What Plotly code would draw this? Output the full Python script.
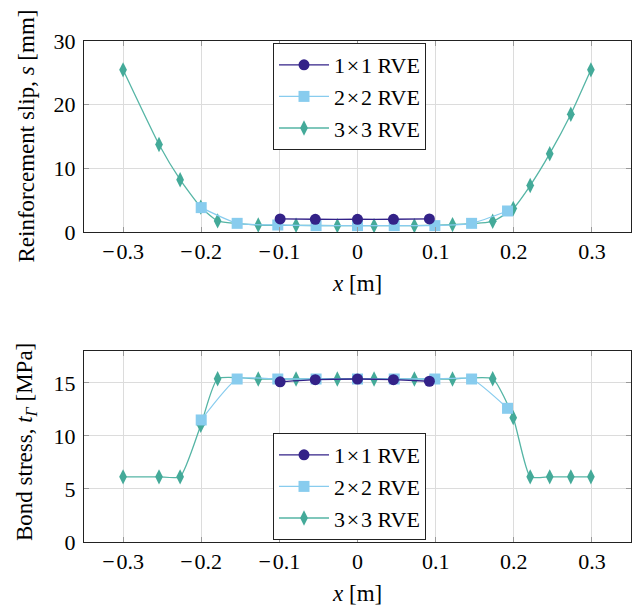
import plotly.graph_objects as go

# ---------------- data ----------------
x_1x1 = [-0.099, -0.054, 0.0, 0.046, 0.092]
slip_1x1 = [2.05, 2.0, 2.0, 2.0, 2.05]
stress_1x1 = [15.1, 15.3, 15.36, 15.3, 15.15]

x_2x2 = [-0.200, -0.154, -0.102, -0.053, 0.0, 0.047, 0.099, 0.146, 0.192]
slip_2x2 = [3.83, 1.36, 1.1, 1.0, 1.0, 1.0, 1.0, 1.36, 3.3]
stress_2x2 = [11.5, 15.36, 15.36, 15.36, 15.36, 15.36, 15.36, 15.36, 12.6]

x_3x3 = [-0.300, -0.254, -0.227, -0.2006, -0.179, -0.127, -0.0786, -0.0258,
         0.0212, 0.0728, 0.1216, 0.173, 0.1993, 0.221, 0.246, 0.273, 0.2987]
slip_3x3 = [25.47, 13.74, 8.21, 3.9, 1.74, 1.1, 1.05, 1.0, 1.0, 1.0, 1.16,
            1.68, 3.7, 7.3, 12.3, 18.5, 25.47]
stress_3x3 = [6.14, 6.14, 6.14, 11.0, 15.39, 15.36, 15.36, 15.36, 15.36, 15.36,
              15.36, 15.39, 11.72, 6.14, 6.14, 6.14, 6.14]

series_names = ["1\u200a×\u200a1 RVE", "2\u200a×\u200a2 RVE", "3\u200a×\u200a3 RVE"]
x_ticks = [-0.3, -0.2, -0.1, 0, 0.1, 0.2, 0.3]
x_tick_text = ["−\u200a0.3", "−\u200a0.2", "−\u200a0.1", "0", "0.1", "0.2", "0.3"]
slip_ticks = [0, 10, 20, 30]
stress_ticks = [0, 5, 10, 15]

# ---------------- styles ----------------
C1, C2, C3 = "#332288", "#88CCEE", "#44AA99"
L3 = "#55B5A5"
FONT = "Liberation Serif"
FS = 22
FT = 23

W, H = 633, 607
ML, MR, MT, MB = 84, 2, 41, 65
PH = H - MT - MB


def py(pix):
    return (H - MB - pix) / PH


def px(pix):
    return (pix - ML) / (W - ML - MR)


fig = go.Figure()

specs = [
    (x_3x3, slip_3x3, stress_3x3, series_names[2], C3, L3, "diamond-tall", 11, 3),
    (x_2x2, slip_2x2, stress_2x2, series_names[1], C2, C2, "square", 11, 2),
    (x_1x1, slip_1x1, stress_1x1, series_names[0], C1, C1, "circle", 11, 1),
]

for xs, s, t, name, col, lcol, sym, ms, rank in specs:
    for yy, xa, ya, lg in ((s, "x", "y", "legend"), (t, "x2", "y2", "legend2")):
        fig.add_trace(go.Scatter(
            x=xs, y=yy, name=name, mode="lines+markers",
            line=dict(color=lcol, width=1.3, shape="spline", smoothing=0.5),
            marker=dict(color=col, symbol=sym, size=ms, line=dict(width=0)),
            xaxis=xa, yaxis=ya, legend=lg, legendrank=rank,
        ))

axis_common = dict(
    automargin=False,
    showline=True, linecolor="#222", linewidth=1, mirror="ticks",
    ticks="inside", ticklen=5, tickcolor="#999", tickwidth=1,
    showgrid=True, gridcolor="#dcdcdc", gridwidth=1, zeroline=False,
    tickfont=dict(family=FONT, size=FS, color="black"),
)

legend_common = dict(
    xanchor="left", bordercolor="#222", borderwidth=1, bgcolor="white",
    font=dict(family=FONT, size=FS, color="black"), itemwidth=50,
    tracegroupgap=0,
)

fig.update_layout(
    template="none",
    width=W, height=H, margin=dict(l=ML, r=MR, t=MT, b=MB, autoexpand=False),
    paper_bgcolor="white", plot_bgcolor="white",
    font=dict(family=FONT, size=FS, color="black"),
    xaxis=dict(domain=[0, 1], range=[-0.35, 0.35], anchor="y",
               tickvals=x_ticks, ticktext=x_tick_text, **axis_common),
    yaxis=dict(domain=[py(232), 1], range=[0, 30], anchor="x",
               tickvals=slip_ticks, ticklabelstandoff=3, **axis_common),
    xaxis2=dict(domain=[0, 1], range=[-0.35, 0.35], anchor="y2",
                tickvals=x_ticks, ticktext=x_tick_text, **axis_common),
    yaxis2=dict(domain=[0, py(351)], range=[0, 18], anchor="x2",
                tickvals=stress_ticks, ticklabelstandoff=3, **axis_common),
    legend=dict(x=px(273), y=py(43), yanchor="top", **legend_common),
    legend2=dict(x=px(273), y=py(540), yanchor="bottom", **legend_common),
    showlegend=True,
)

annots = [
    dict(text="<i>x</i> [m]", x=px(357), y=py(283), xanchor="center", yanchor="middle"),
    dict(text="<i>x</i> [m]", x=px(357), y=py(593), xanchor="center", yanchor="middle"),
    dict(text="Reinforcement slip, <i>s</i> [mm]", x=px(26), y=py(136.5),
         xanchor="center", yanchor="middle", textangle=-90),
    dict(text="Bond stress, <i>t</i><sub><i>Γ</i></sub> [MPa]", x=px(26), y=py(442),
         xanchor="center", yanchor="middle", textangle=-90),
]
for a in annots:
    fig.add_annotation(xref="paper", yref="paper", showarrow=False,
                       font=dict(family=FONT, size=FT, color="black"), **a)

fig.write_html("out.html", config={"displayModeBar": False},
               post_script="document.body.style.margin='0';document.body.style.padding='0';")
